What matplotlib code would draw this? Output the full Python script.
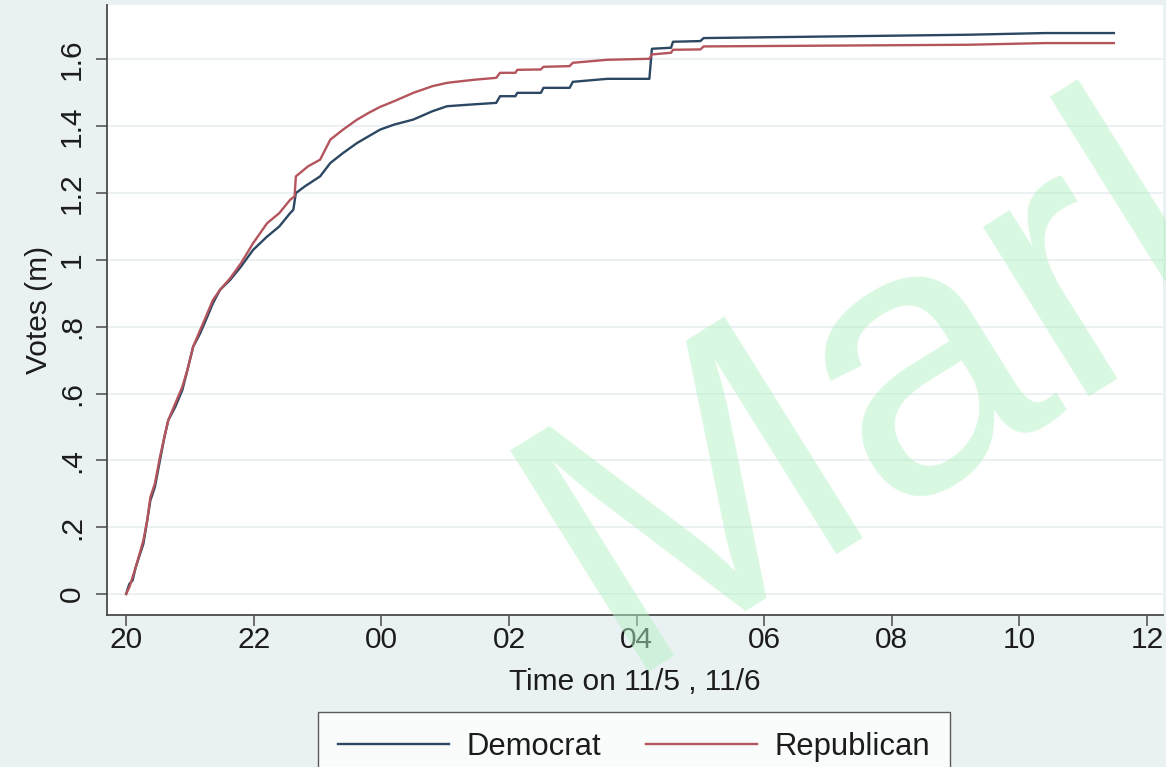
import matplotlib
matplotlib.use("Agg")
import matplotlib.pyplot as plt
from matplotlib import font_manager

# ---------------- data ----------------
dem_time = [20.00, 20.05, 20.10, 20.15, 20.27, 20.33, 20.38, 20.45, 20.53, 20.60,
            20.66, 20.77, 20.88, 20.96, 21.05, 21.16, 21.25, 21.36, 21.47, 21.63,
            21.80, 21.99, 22.10, 22.21, 22.40, 22.57, 22.62, 22.66, 22.80, 23.04,
            23.20, 23.40, 23.62, 23.80, 23.98, 24.20, 24.50, 24.80, 25.03, 25.40,
            25.80, 25.86, 26.10, 26.13, 26.50, 26.54, 26.95, 27.00, 27.54, 28.20,
            28.24, 28.54, 28.57, 29.00, 29.05, 30.70, 33.20, 34.40, 35.48]
dem_votes = [0.00, 0.03, 0.04, 0.08, 0.15, 0.22, 0.28, 0.32, 0.40, 0.47,
             0.52, 0.56, 0.61, 0.67, 0.74, 0.78, 0.82, 0.87, 0.91, 0.94,
             0.98, 1.03, 1.05, 1.07, 1.10, 1.14, 1.15, 1.20, 1.22, 1.25,
             1.29, 1.32, 1.35, 1.37, 1.39, 1.405, 1.42, 1.445, 1.46, 1.465,
             1.47, 1.49, 1.49, 1.50, 1.50, 1.515, 1.515, 1.533, 1.542, 1.542,
             1.632, 1.635, 1.653, 1.655, 1.664, 1.668, 1.674, 1.679, 1.679]

rep_time = [20.00, 20.05, 20.10, 20.15, 20.27, 20.33, 20.38, 20.45, 20.53, 20.60,
            20.66, 20.77, 20.88, 20.96, 21.05, 21.16, 21.25, 21.36, 21.47, 21.63,
            21.80, 21.99, 22.10, 22.21, 22.40, 22.57, 22.64, 22.66, 22.85, 23.04,
            23.20, 23.40, 23.62, 23.80, 23.98, 24.20, 24.50, 24.80, 25.03, 25.44,
            25.80, 25.86, 26.10, 26.13, 26.50, 26.54, 26.95, 27.00, 27.54, 28.20,
            28.24, 28.54, 28.57, 29.00, 29.05, 30.70, 33.20, 34.40, 35.48]
rep_votes = [0.00, 0.02, 0.05, 0.08, 0.16, 0.22, 0.29, 0.33, 0.41, 0.47,
             0.52, 0.57, 0.62, 0.67, 0.74, 0.79, 0.83, 0.88, 0.91, 0.945,
             0.99, 1.05, 1.08, 1.11, 1.14, 1.18, 1.19, 1.25, 1.28, 1.30,
             1.36, 1.39, 1.42, 1.44, 1.458, 1.475, 1.50, 1.52, 1.53, 1.539,
             1.545, 1.56, 1.56, 1.569, 1.57, 1.578, 1.58, 1.59, 1.599, 1.602,
             1.615, 1.62, 1.629, 1.63, 1.639, 1.641, 1.644, 1.649, 1.649]

x_ticks = [20, 22, 24, 26, 28, 30, 32, 34, 36]
x_tick_labels = ["20", "22", "00", "02", "04", "06", "08", "10", "12"]
y_ticks = [0, 0.2, 0.4, 0.6, 0.8, 1.0, 1.2, 1.4, 1.6]
y_tick_labels = ["0", ".2", ".4", ".6", ".8", "1", "1.2", "1.4", "1.6"]
series_names = ["Democrat", "Republican"]
watermark = "Marl"

# ---------------- style ----------------
plt.rcParams["font.family"] = ["Liberation Sans", "DejaVu Sans"]
FS = 21.5
TXT = "#1c1c1c"
AX = "#4a4a4a"
DEM_C = "#2b4761"
REP_C = "#b4545c"

W, H = 1166, 767
fig = plt.figure(figsize=(W / 100, H / 100), dpi=100)
fig.patch.set_facecolor("#eaf1f3")

ax = fig.add_axes([107 / W, 1 - 615 / H, (1163 - 107) / W, (615 - 5) / H])
ax.set_facecolor("white")

ax.plot(dem_time, dem_votes, color=DEM_C, lw=1.7, label=series_names[0], zorder=3)
ax.plot(rep_time, rep_votes, color=REP_C, lw=1.7, label=series_names[1], zorder=3)

ax.set_xlim(19.70, 36.25)
ax.set_ylim(-0.063, 1.763)

ax.set_xticks(x_ticks)
ax.set_xticklabels(x_tick_labels)
ax.set_yticks(y_ticks)
ax.set_yticklabels(y_tick_labels, rotation=90, va="center")

ax.tick_params(axis="both", direction="out", length=8, width=1.1, color=AX,
               labelsize=FS, labelcolor=TXT)
ax.tick_params(axis="x", pad=0)
ax.tick_params(axis="y", pad=7)

for s in ["top", "right"]:
    ax.spines[s].set_visible(False)
for s in ["left", "bottom"]:
    ax.spines[s].set_color(AX)
    ax.spines[s].set_linewidth(1.3)

ax.yaxis.grid(True, color="#e9eff2", lw=1.3, zorder=0)
ax.xaxis.grid(False)
ax.set_axisbelow(True)

ax.set_xlabel("Time on 11/5 , 11/6", fontsize=FS, color=TXT, labelpad=10)
ax.set_ylabel("Votes (m)", fontsize=FS, color=TXT, labelpad=4)

leg = fig.legend(loc="upper center", bbox_to_anchor=(634 / W, 1 - 712 / H),
                 ncol=2, fontsize=22.3, frameon=True, fancybox=False,
                 handlelength=3.6, handletextpad=0.55, columnspacing=1.45,
                 borderpad=0.65, borderaxespad=0, labelcolor=TXT)
leg.get_frame().set_edgecolor("#333333")
leg.get_frame().set_linewidth(1.0)
leg.get_frame().set_facecolor("white")

# watermark (narrow face if available)
names = {f.name for f in font_manager.fontManager.ttflist}
if "Liberation Sans Narrow" in names:
    wm_family, wm_size = "Liberation Sans Narrow", 315
else:
    wm_family, wm_size = "Liberation Sans", 272
fig.text(618 / W, 1 - 672 / H, watermark, fontsize=wm_size, family=wm_family,
         color="#b4f2c4", rotation=32, rotation_mode="anchor", ha="left",
         va="baseline", zorder=1, alpha=0.5)

fig.savefig("out.png", dpi=100, facecolor=fig.get_facecolor())
